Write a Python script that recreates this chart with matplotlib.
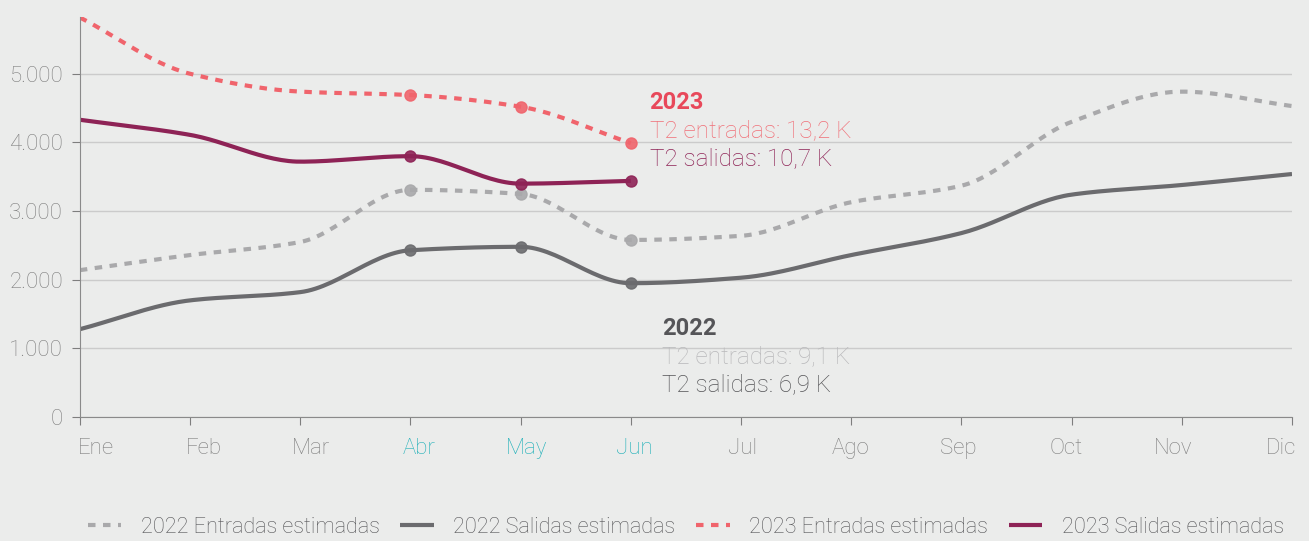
import numpy as np
import matplotlib.pyplot as plt
from matplotlib.ticker import FuncFormatter

months = ["Ene", "Feb", "Mar", "Abr", "May", "Jun", "Jul", "Ago", "Sep", "Oct", "Nov", "Dic"]
entradas_2022 = [2140, 2360, 2550, 3310, 3250, 2580, 2640, 3130, 3370, 4300, 4740, 4530]
salidas_2022 = [1280, 1700, 1820, 2430, 2480, 1950, 2030, 2360, 2680, 3240, 3380, 3540]
entradas_2023 = [5820, 5000, 4740, 4690, 4520, 3990]
salidas_2023 = [4330, 4110, 3720, 3800, 3400, 3440]
marked = [3, 4, 5]  # Abr, May, Jun


def monotone(y, n=30):
    # smooth curve through the points (monotone cubic)
    y = np.asarray(y, dtype=float)
    x = np.arange(len(y))
    d = np.diff(y)
    m = np.zeros(len(y))
    m[0], m[-1] = d[0], d[-1]
    for k in range(1, len(y) - 1):
        if d[k - 1] * d[k] > 0:
            m[k] = 2 / (1 / d[k - 1] + 1 / d[k])
    xs, ys = [], []
    for k in range(len(y) - 1):
        t = np.linspace(0, 1, n)
        h00 = 2 * t**3 - 3 * t**2 + 1
        h10 = t**3 - 2 * t**2 + t
        h01 = -2 * t**3 + 3 * t**2
        h11 = t**3 - t**2
        xs.append(x[k] + t)
        ys.append(h00 * y[k] + h10 * m[k] + h01 * y[k + 1] + h11 * m[k + 1])
    return np.concatenate(xs), np.concatenate(ys)


plt.rcParams["font.family"] = ["Roboto", "DejaVu Sans"]
bg = "#ebeceb"

figure, ax = plt.subplots(figsize=(13.09, 5.41), dpi=100)
figure.patch.set_facecolor(bg)
ax.set_facecolor(bg)
figure.subplots_adjust(left=0.061, right=0.987, top=0.969, bottom=0.229)

series = [
    (entradas_2022, "#a9a9ab", (0, (1.8, 1.8)), "2022 Entradas estimadas"),
    (salidas_2022, "#6b6b6e", "-", "2022 Salidas estimadas"),
    (entradas_2023, "#f0646c", (0, (1.8, 1.8)), "2023 Entradas estimadas"),
    (salidas_2023, "#8e2356", "-", "2023 Salidas estimadas"),
]
for values, color, style, label in series:
    xs, ys = monotone(values)
    ax.plot(xs, ys, color=color, lw=3, linestyle=style, label=label, solid_capstyle="butt")
    pts = [i for i in marked if i < len(values)]
    ax.plot(pts, [values[i] for i in pts], "o", color=color, ms=8, alpha=0.9)

# annotations
ax.text(5.17, 4580, "2023", color="#e8485a", fontsize=17, fontweight="bold", va="center")
ax.text(5.17, 4170, "T2 entradas: 13,2 K", color="#f07078", fontsize=17.5, va="center", fontweight="light")
ax.text(5.17, 3760, "T2 salidas: 10,7 K", color="#8e2356", fontsize=17.5, va="center", fontweight="light")
ax.text(5.28, 1290, "2022", color="#555558", fontsize=17, fontweight="bold", va="center")
ax.text(5.28, 880, "T2 entradas: 9,1 K", color="#b8b8ba", fontsize=17.5, va="center", fontweight="light")
ax.text(5.28, 470, "T2 salidas: 6,9 K", color="#555558", fontsize=17.5, va="center", fontweight="light")

ax.set_xlim(0, 11)
ax.set_ylim(0, 5830)
# tick marks on the months, labels spread a bit inward
ax.set_xticks(range(12))
ax.set_xticklabels([])
ax.set_xticks([0.145 + 0.978 * k for k in range(12)], minor=True)
ax.set_xticklabels(months, minor=True)
ax.set_yticks(range(0, 6000, 1000))
ax.yaxis.set_major_formatter(FuncFormatter(lambda v, p: f"{int(v):,}".replace(",", ".")))
ax.grid(axis="y", color="#cbcbcb", lw=1)
ax.set_axisbelow(True)
for s in ["top", "right"]:
    ax.spines[s].set_visible(False)
for s in ["left", "bottom"]:
    ax.spines[s].set_color("#8a8a8a")
ax.tick_params(which="both", colors="#7e7e7e", labelsize=16)
ax.tick_params(which="major", length=6)
ax.tick_params(axis="x", which="minor", length=0, pad=15)
ax.tick_params(axis="y", pad=6)
for lbl in ax.get_xticklabels(minor=True):
    if lbl.get_text() in ["Abr", "May", "Jun"]:
        lbl.set_color("#1fb0b8")
for lbl in ax.get_xticklabels(minor=True) + ax.get_yticklabels():
    lbl.set_fontweight("light")

leg = ax.legend(loc="upper center", bbox_to_anchor=(0.5, -0.2), ncol=4, frameon=False,
                fontsize=15.6, handlelength=1.55, handletextpad=0.9, columnspacing=0.95)
for t in leg.get_texts():
    t.set_color("#555558")
    t.set_fontweight("light")

figure.savefig("out.png", dpi=100, facecolor=bg)
